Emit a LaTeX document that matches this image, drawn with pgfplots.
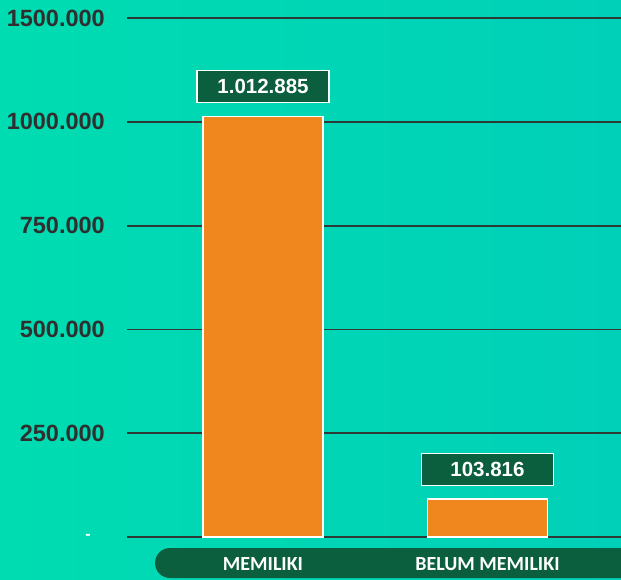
\documentclass[border=0pt]{standalone}
\usepackage{pgfplots}
\pgfplotsset{compat=1.18}
\usepackage{fontspec}
\setmainfont{Liberation Sans}
\newfontfamily\carlito{Carlito}
\definecolor{dgreen}{HTML}{0B5E3E}
\definecolor{barorange}{HTML}{F0861E}
\definecolor{gridc}{HTML}{2E3A36}
\definecolor{tickc}{HTML}{2F2F2F}
\definecolor{bgl}{HTML}{00DCB1}
\definecolor{bgr}{HTML}{00D0B8}
\begin{document}
\begin{tikzpicture}
\useasboundingbox (0,0) rectangle (621pt,579pt);
\clip (0,0) rectangle (621pt,579pt);
\shade[left color=bgl, right color=bgr] (0,0) rectangle (621pt,579pt);
\fill[dgreen, rounded corners=15pt] (155pt,1pt) rectangle (660pt,31pt);
\begin{axis}[
  at={(127pt,42pt)}, anchor=south west,
  scale only axis, width=494pt, height=537pt,
  xmin=-0.606, xmax=1.595,
  ymin=0, ymax=1293.4,
  axis lines=left, axis line style={draw=none},
  ybar, bar width=120pt,
  ytick={0,250,500,750,1000,1250},
  yticklabels={{\textcolor{white}{\fontsize{16}{18}\selectfont -}\rule{14pt}{0pt}},250.000,500.000,750.000,1000.000,1500.000},
  ymajorgrids, grid style={gridc, line width=1.8pt},
  major tick length=0pt,
  /pgf/number format/assume math mode=true,
  yticklabel style={anchor=east, inner sep=0pt, xshift=-22pt, font=\bfseries\fontsize{23.5}{26}\selectfont, text=tickc},
  xtick=\empty,
  clip=false,
  nodes near coords,
  point meta=explicit symbolic,
  every node near coord/.append style={anchor=south, yshift=13pt, fill=dgreen, draw=white, line width=1.2pt, text=white, font=\bfseries\fontsize{20.5}{24}\selectfont, minimum width=132pt, minimum height=32pt, inner sep=0pt},
]
\addplot[fill=barorange, draw=white, line width=1.5pt] coordinates {(0,1012.885) [1.012.885] (1,91) [103.816]};
\end{axis}
\node[text=white, font=\carlito\bfseries\fontsize{20}{24}\selectfont] at (263pt,15pt) {MEMILIKI};
\node[text=white, font=\carlito\bfseries\fontsize{20}{24}\selectfont] at (487.5pt,15pt) {BELUM MEMILIKI};
\end{tikzpicture}
\end{document}
